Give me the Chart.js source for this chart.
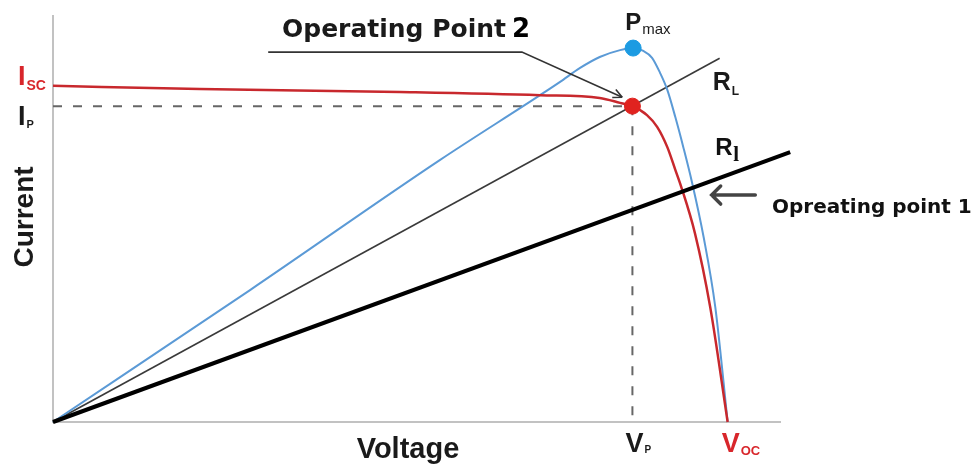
<!DOCTYPE html>
<html>
<head>
<meta charset="utf-8">
<title>I-V curve</title>
<script src="https://cdn.jsdelivr.net/npm/chart.js@4/dist/chart.umd.min.js"></script>
<style>
  body { margin: 0; background: #fff; }
  canvas { display: block; }
</style>
</head>
<body>
<canvas id="ivChart" width="979" height="464"></canvas>
<script>
// I-V curve (red) and P-V curve (blue), in relative units 0..100
var ivVoltage = [0, 20.2, 47.7, 67.0, 75.2, 78.0, 79.7, 81.7, 83.1, 84.5, 85.6, 86.4, 88.3, 90.4, 92.8];
var ivCurrent = [82.8, 82.0, 81.3, 80.5, 79.8, 78.6, 77.8, 75.6, 72.7, 67.7, 62.1, 58.0, 46.5, 28.3, 0];
var pvVoltage = [0, 27.1, 53.2, 67.0, 69.7, 72.5, 75.2, 78.0, 79.8, 81.2, 82.4, 83.5, 84.5, 85.6, 86.7, 87.9, 89.5, 91.1, 92.8];
var pvPower = [0, 32.5, 64.5, 80.5, 83.7, 87.2, 89.9, 91.6, 92.1, 91.4, 89.7, 86.0, 81.8, 75.1, 67.7, 59.0, 45.5, 28.3, 0];

// key points
var isc = 82.8;
var voc = 92.8;
var vp = 79.7;
var ip = 77.8;
var pmaxV = 79.8;
var pmaxP = 92.1;

// load lines (from origin to these ends)
var loadHighEnd = [91.7, 89.6];
var loadLowEnd = [101.4, 66.5];

function toPoints(xs, ys) {
  var pts = [];
  for (var i = 0; i < xs.length; i++) {
    pts.push({ x: xs[i], y: ys[i] });
  }
  return pts;
}

function drawSub(ctx, main, sub, x, y, mainFont, subFont, color, subDy) {
  ctx.fillStyle = color;
  ctx.font = mainFont;
  ctx.textAlign = 'left';
  ctx.textBaseline = 'alphabetic';
  ctx.fillText(main, x, y);
  var w = ctx.measureText(main).width;
  ctx.font = subFont;
  ctx.fillText(sub, x + w + 1, y + subDy);
}

var labelPlugin = {
  id: 'labels',
  afterDraw: function (chart) {
    var ctx = chart.ctx;
    var xs = chart.scales.x;
    var ys = chart.scales.y;
    var px = function (v) { return xs.getPixelForValue(v); };
    var py = function (v) { return ys.getPixelForValue(v); };
    var bold = 'bold ';
    var arial = 'px "Liberation Sans", Arial, sans-serif';
    var deja = 'px "DejaVu Sans", sans-serif';
    ctx.save();

    // axis titles
    ctx.fillStyle = '#1a1a1a';
    ctx.font = bold + 29 + arial;
    ctx.textAlign = 'center';
    ctx.textBaseline = 'alphabetic';
    ctx.fillText('Voltage', 408, 458);
    ctx.save();
    ctx.translate(33, 217);
    ctx.rotate(-Math.PI / 2);
    ctx.font = bold + 28 + arial;
    ctx.fillText('Current', 0, 0);
    ctx.restore();

    // axis labels with subscripts
    drawSub(ctx, 'I', 'SC', px(0) - 35, py(isc) - 1, bold + 27 + arial, bold + 14 + arial, '#d8262b', 5);
    drawSub(ctx, 'I', 'P', px(0) - 35, py(ip) + 19, bold + 27 + arial, bold + 11 + arial, '#1a1a1a', 3);
    drawSub(ctx, 'V', 'P', px(vp) - 7, ys.bottom + 30, bold + 27 + arial, bold + 10 + arial, '#1a1a1a', 1);
    drawSub(ctx, 'V', 'OC', px(voc) - 6, ys.bottom + 30, bold + 27 + arial, bold + 13 + arial, '#d8262b', 3);
    drawSub(ctx, 'P', 'max', px(pmaxV) - 8, py(pmaxP) - 18, bold + 24 + arial, 15 + arial, '#1a1a1a', 4);
    drawSub(ctx, 'R', 'L', px(loadHighEnd[0]) - 7, py(loadHighEnd[1]) + 32, bold + 25 + arial, bold + 12 + arial, '#1a1a1a', 5);
    ctx.fillStyle = '#111';
    ctx.font = bold + 24 + arial;
    ctx.fillText('R', px(loadLowEnd[0]) - 75, py(loadLowEnd[1]) + 3);
    ctx.font = 'bold 21px "Liberation Serif", serif';
    ctx.fillText('l', px(loadLowEnd[0]) - 57, py(loadLowEnd[1]) + 9);

    // Operating Point 2 caption and leader arrow
    ctx.fillStyle = '#1a1a1a';
    ctx.font = bold + 25 + deja;
    ctx.fillText('Operating Point', 282, 37);
    var cw = ctx.measureText('Operating Point').width;
    ctx.fillStyle = '#000';
    ctx.font = bold + 26 + deja;
    ctx.fillText('2', 282 + cw + 6, 37);

    ctx.strokeStyle = '#333';
    ctx.lineWidth = 1.6;
    ctx.beginPath();
    ctx.moveTo(px(29.6), py(91.1));
    ctx.lineTo(px(64.5), py(91.1));
    var ax = px(78.3), ay = py(80.0);
    ctx.lineTo(ax, ay);
    ctx.stroke();
    var ang = Math.atan2(ay - py(91.1), ax - px(64.5));
    ctx.beginPath();
    ctx.moveTo(ax, ay);
    ctx.lineTo(ax - 10 * Math.cos(ang - 0.45), ay - 10 * Math.sin(ang - 0.45));
    ctx.moveTo(ax, ay);
    ctx.lineTo(ax - 10 * Math.cos(ang + 0.45), ay - 10 * Math.sin(ang + 0.45));
    ctx.stroke();

    // Opreating point 1 arrow and caption
    var y1 = py(55.9);
    var tipX = px(90.6);
    ctx.strokeStyle = '#444';
    ctx.lineWidth = 3.5;
    ctx.lineCap = 'round';
    ctx.beginPath();
    ctx.moveTo(px(96.6), y1);
    ctx.lineTo(tipX, y1);
    ctx.moveTo(tipX + 9, y1 - 9);
    ctx.lineTo(tipX, y1);
    ctx.lineTo(tipX + 9, y1 + 9);
    ctx.stroke();
    ctx.fillStyle = '#111';
    ctx.font = bold + 20 + deja;
    ctx.textAlign = 'left';
    ctx.fillText('Opreating point 1', 772, 213);

    ctx.restore();
  }
};

var chart = new Chart(document.getElementById('ivChart'), {
  type: 'scatter',
  data: {
    datasets: [
      {
        label: 'Operating point 2',
        data: [{ x: vp, y: ip }],
        backgroundColor: '#e0231f',
        borderColor: '#e0231f',
        pointRadius: 8,
        showLine: false
      },
      {
        label: 'Pmax',
        data: [{ x: pmaxV, y: pmaxP }],
        backgroundColor: '#1c9be2',
        borderColor: '#1c9be2',
        pointRadius: 8,
        showLine: false
      },
      {
        label: 'Rl',
        data: [{ x: 0, y: 0 }, { x: loadLowEnd[0], y: loadLowEnd[1] }],
        borderColor: '#000',
        borderWidth: 4,
        showLine: true,
        pointRadius: 0
      },
      {
        label: 'I-V',
        data: toPoints(ivVoltage, ivCurrent),
        borderColor: '#c8282d',
        borderWidth: 2.5,
        showLine: true,
        pointRadius: 0,
        cubicInterpolationMode: 'monotone'
      },
      {
        label: 'P-V',
        data: toPoints(pvVoltage, pvPower),
        borderColor: '#5b9ad6',
        borderWidth: 2,
        showLine: true,
        pointRadius: 0,
        cubicInterpolationMode: 'monotone'
      },
      {
        label: 'RL',
        data: [{ x: 0, y: 0 }, { x: loadHighEnd[0], y: loadHighEnd[1] }],
        borderColor: '#3a3a3a',
        borderWidth: 1.6,
        showLine: true,
        pointRadius: 0
      },
      {
        label: 'Ip',
        data: [{ x: 0, y: ip }, { x: vp, y: ip }],
        borderColor: '#666',
        borderWidth: 2,
        borderDash: [9, 11],
        showLine: true,
        pointRadius: 0
      },
      {
        label: 'Vp',
        data: [{ x: vp, y: ip }, { x: vp, y: 0 }],
        borderColor: '#666',
        borderWidth: 2,
        borderDash: [9, 11],
        showLine: true,
        pointRadius: 0
      }
    ]
  },
  options: {
    responsive: false,
    devicePixelRatio: 1,
    animation: false,
    clip: false,
    layout: { padding: { left: 53, top: 16, right: 199, bottom: 42 } },
    plugins: {
      legend: { display: false },
      tooltip: { enabled: false }
    },
    scales: {
      x: {
        type: 'linear',
        min: 0,
        max: 100,
        ticks: { display: false },
        grid: { display: false, drawTicks: false },
        border: { display: true, color: '#c2c2c2', width: 2 }
      },
      y: {
        type: 'linear',
        min: 0,
        max: 100,
        ticks: { display: false },
        grid: { display: false, drawTicks: false },
        border: { display: true, color: '#c2c2c2', width: 2 }
      }
    }
  },
  plugins: [labelPlugin]
});
</script>
</body>
</html>
